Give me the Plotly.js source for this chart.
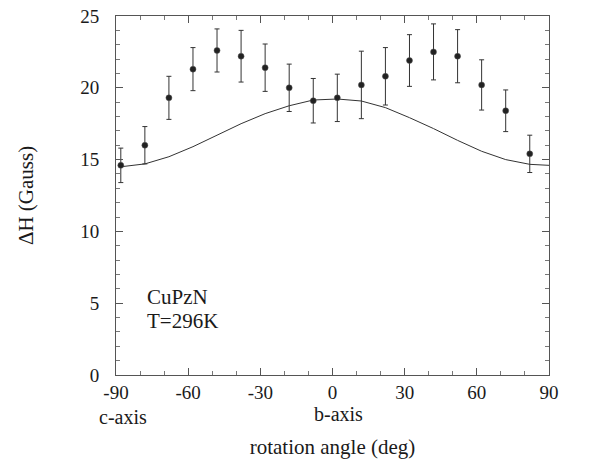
<!DOCTYPE html>
<html>
<head>
<meta charset="utf-8">
<script src="https://cdn.plot.ly/plotly-3.0.1.min.js"></script>
<style>html,body{margin:0;padding:0;background:#fff;}#chart{width:591px;height:459px;}</style>
</head>
<body>
<div id="chart"></div>
<script>
// Measured data (rotation angle in degrees, linewidth ΔH in Gauss)
const angles = [-88,-78,-68,-58,-48,-38,-28,-18,-8,2,12,22,32,42,52,62,72,82];
const dH = [14.6,16.0,19.3,21.3,22.6,22.2,21.4,20.0,19.1,19.3,20.2,20.8,21.9,22.5,22.2,20.2,18.4,15.4];
const dHerr = [1.2,1.3,1.5,1.5,1.5,1.8,1.65,1.65,1.55,1.65,2.35,2.0,1.8,1.95,1.85,1.75,1.45,1.3];

// Calculated curve
const fitAngles = [-88,-78,-68,-58,-48,-38,-28,-18,-8,2,12,22,32,42,52,62,72,82,90];
const fitDH = [14.5,14.7,15.2,15.9,16.7,17.5,18.2,18.75,19.15,19.22,19.08,18.62,17.92,17.16,16.34,15.58,15.0,14.67,14.6];

// Tick labels and annotations
const xTicks = [-90,-60,-30,0,30,60,90];
const yTicks = [0,5,10,15,20,25];
const axisNames = ["c-axis","b-axis","c-axis"];
const axisNameAngles = [-87.2,2.3,91.9];
const sampleLabel = "CuPzN";
const tempLabel = "T=296K";

const FONT = "'Liberation Serif', 'Times New Roman', Times, serif";
const INK = "#1a1a1a";

const traces = [
  {
    x: fitAngles, y: fitDH, type: "scatter", mode: "lines",
    line: {color: "#333", width: 1}, hoverinfo: "skip", showlegend: false
  },
  {
    x: angles, y: dH, type: "scatter", mode: "markers",
    marker: {color: "#222", size: 6, line: {color: "#555", width: 0.5}},
    error_y: {type: "data", array: dHerr, visible: true, color: "#333", thickness: 1, width: 2.5},
    showlegend: false
  }
];

const layout = {
  width: 591, height: 459,
  margin: {l: 116, r: 42, t: 16, b: 84, pad: 0},
  paper_bgcolor: "#fff", plot_bgcolor: "#fff",
  font: {family: FONT, color: INK, size: 19},
  showlegend: false,
  xaxis: {
    range: [-90, 90], tickvals: xTicks, ticktext: xTicks.map(String),
    ticks: "inside", ticklen: 7, tickwidth: 1, tickcolor: "#555",
    minor: {dtick: 10, tick0: 0, ticks: "inside", ticklen: 4, tickcolor: "#777", tickwidth: 1},
    showline: true, linecolor: "#555", linewidth: 1, mirror: "allticks",
    showgrid: false, zeroline: false,
    tickfont: {family: FONT, size: 19, color: INK},
    ticklabelstandoff: 0,
    title: {text: "rotation angle (deg)", font: {family: FONT, size: 21, color: INK}, standoff: 38}
  },
  yaxis: {
    range: [0, 25], tickvals: yTicks, ticktext: yTicks.map(String),
    ticks: "inside", ticklen: 7, tickwidth: 1, tickcolor: "#555",
    minor: {dtick: 1, tick0: 0, ticks: "inside", ticklen: 4, tickcolor: "#777", tickwidth: 1},
    showline: true, linecolor: "#555", linewidth: 1, mirror: "allticks",
    showgrid: false, zeroline: false,
    tickfont: {family: FONT, size: 19, color: INK},
    ticklabelstandoff: 12,
    title: {text: "ΔH (Gauss)", font: {family: FONT, size: 21, color: INK}, standoff: 40}
  },
  annotations: [
    {text: axisNames[0], x: axisNameAngles[0], xref: "x", y: -0.116, yref: "paper",
     xanchor: "center", yanchor: "middle", showarrow: false, font: {family: FONT, size: 20, color: INK}},
    {text: axisNames[1], x: axisNameAngles[1], xref: "x", y: -0.110, yref: "paper",
     xanchor: "center", yanchor: "middle", showarrow: false, font: {family: FONT, size: 20, color: INK}},
    {text: axisNames[2], x: axisNameAngles[2], xref: "x", y: -0.104, yref: "paper",
     xanchor: "center", yanchor: "middle", showarrow: false, font: {family: FONT, size: 20, color: INK}},
    {text: sampleLabel, x: -78, xref: "x", y: 5.41, yref: "y",
     xanchor: "left", yanchor: "middle", showarrow: false, font: {family: FONT, size: 21, color: INK}},
    {text: tempLabel, x: -78, xref: "x", y: 3.74, yref: "y",
     xanchor: "left", yanchor: "middle", showarrow: false, font: {family: FONT, size: 21, color: INK}}
  ]
};

Plotly.newPlot("chart", traces, layout, {staticPlot: true, displayModeBar: false});
</script>
</body>
</html>
